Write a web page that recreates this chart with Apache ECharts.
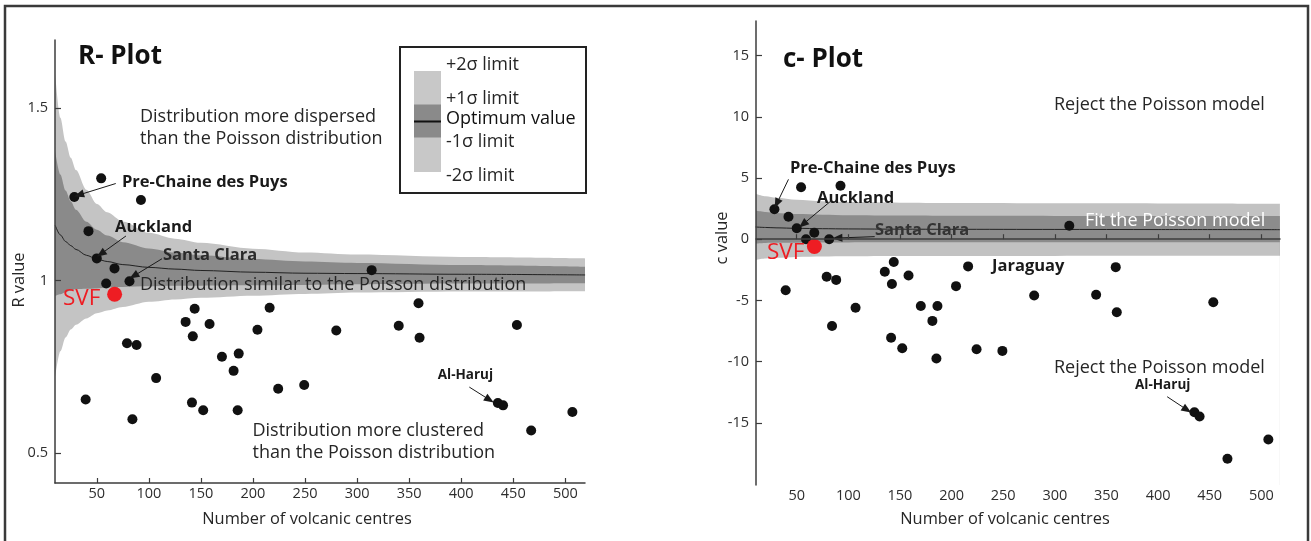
<!DOCTYPE html>
<html><head><meta charset="utf-8">
<script src="https://cdn.jsdelivr.net/npm/echarts@6/dist/echarts.min.js"></script>
<style>html,body{margin:0;padding:0;background:#fff}#c{width:1311px;height:541px}</style>
</head><body><div id="c"></div>
<script>
// ---- data: number of volcanic centres and the R / c statistics per volcanic field ----
const centres = [54.2, 28.4, 92.4, 42, 50, 67, 59, 81.4, 314, 144, 216, 359, 135.3, 158.3, 204.3, 280, 340, 453.5, 142.2, 360, 79, 88.2, 170.2, 186.3, 181.4, 107, 224.2, 249.2, 39.3, 141.4, 152.2, 185.3, 84.2, 435.2, 440.2, 506.8, 467.2];
const rValues = [1.296, 1.242, 1.233, 1.143, 1.064, 1.035, 0.991, 0.998, 1.030, 0.918, 0.921, 0.934, 0.880, 0.874, 0.857, 0.855, 0.869, 0.871, 0.838, 0.834, 0.818, 0.813, 0.779, 0.788, 0.738, 0.717, 0.686, 0.697, 0.655, 0.646, 0.624, 0.624, 0.598, 0.645, 0.638, 0.619, 0.565];
const cValues = [4.25, 2.45, 4.36, 1.83, 0.90, 0.53, 0.0, 0.0, 1.10, -1.86, -2.22, -2.28, -2.65, -2.96, -3.83, -4.59, -4.53, -5.15, -3.66, -5.97, -3.07, -3.32, -5.46, -5.46, -6.67, -5.60, -8.98, -9.12, -4.17, -8.05, -8.90, -9.74, -7.09, -14.13, -14.47, -16.36, -17.93];
const svfCentres = [67.1];
const svfR = [0.960];
const svfC = [-0.59];

// tick labels
const xTicks = [50, 100, 150, 200, 250, 300, 350, 400, 450, 500];
const rTicks = [0.5, 1, 1.5];
const cTicks = [-15, -10, -5, 0, 5, 10, 15];

// R-plot confidence envelope
const rBandN   = [10, 15, 20, 25, 30, 40, 50, 60, 75, 100, 125, 150, 200, 250, 300, 400, 519];
const rUpper2  = [1.600, 1.472, 1.403, 1.356, 1.320, 1.263, 1.222, 1.198, 1.171, 1.138, 1.121, 1.109, 1.092, 1.081, 1.075, 1.068, 1.064];
const rUpper1  = [1.375, 1.307, 1.261, 1.229, 1.205, 1.170, 1.147, 1.130, 1.111, 1.093, 1.081, 1.073, 1.062, 1.055, 1.051, 1.045, 1.040];
const rOptimum = [1.160, 1.132, 1.113, 1.101, 1.090, 1.073, 1.062, 1.055, 1.046, 1.038, 1.033, 1.029, 1.024, 1.021, 1.020, 1.018, 1.016];
const rLower1  = [0.955, 0.960, 0.966, 0.971, 0.975, 0.976, 0.977, 0.980, 0.981, 0.983, 0.985, 0.985, 0.986, 0.987, 0.989, 0.991, 0.992];
const rLower2  = [0.720, 0.795, 0.835, 0.858, 0.872, 0.890, 0.905, 0.913, 0.923, 0.938, 0.945, 0.950, 0.956, 0.961, 0.965, 0.968, 0.969];

// c-plot confidence envelope
const cBandN   = [10, 20, 30, 50, 75, 100, 150, 200, 300, 400, 518];
const cUpper2  = [3.70, 3.50, 3.38, 3.22, 3.10, 3.03, 2.98, 2.95, 2.93, 2.92, 2.90];
const cUpper1  = [2.35, 2.22, 2.15, 2.06, 2.00, 1.96, 1.93, 1.91, 1.90, 1.89, 1.88];
const cOptimum = [1.00, 0.96, 0.93, 0.89, 0.86, 0.84, 0.82, 0.81, 0.80, 0.79, 0.78];
const cLower1  = [-0.35, -0.30, -0.29, -0.28, -0.27, -0.26, -0.25, -0.25, -0.25, -0.25, -0.25];
const cLower2  = [-1.70, -1.58, -1.52, -1.45, -1.42, -1.40, -1.38, -1.37, -1.36, -1.35, -1.35];

// ---- build ----
const FONT = '"Open Sans", "DejaVu Sans", sans-serif';
const LIGHT = '#c4c4c4', DARK = '#8a8a8a';
const TEXT = '#262626';
const BODY = 18, LABEL = 16.5, SMALL = 13.5;
const zip = (a, b) => a.map((v, i) => [v, b[i]]);

function band(xi, xs, ys, color) {
  return { type: 'line', xAxisIndex: xi, yAxisIndex: xi, data: zip(xs, ys), symbol: 'none', smooth: 0.3,
    smoothMonotone: 'x', silent: true, lineStyle: { width: 0 },
    areaStyle: { color: color, opacity: 1, origin: 'start' }, z: 1 };
}
function optLine(xi, xs, ys) {
  return { type: 'line', xAxisIndex: xi, yAxisIndex: xi, data: zip(xs, ys), symbol: 'none', smooth: 0.3,
    smoothMonotone: 'x', silent: true, lineStyle: { width: 1, color: '#222' }, z: 2 };
}
function arrows(list) {
  return { silent: true, symbol: ['none', 'triangle'], symbolSize: [8, 10], animation: false,
    label: { show: false }, lineStyle: { color: '#1a1a1a', width: 1, type: 'solid', opacity: 1 },
    emphasis: { disabled: true },
    data: list.map(a => [{ coord: a[0] }, { coord: a[1] }]) };
}

const axisCommon = {
  axisLine: { lineStyle: { color: '#3c3c3c', width: 1.5 } },
  splitLine: { show: false },
  z: 5
};
function xAxis(gi, min, max) {
  return Object.assign({}, axisCommon, {
    gridIndex: gi, type: 'value', min: min, max: max,
    axisTick: { inside: true, length: 5, lineStyle: { color: '#3c3c3c', width: 1.2 }, customValues: xTicks },
    axisLabel: { customValues: xTicks, color: '#2e2e2e', fontSize: 14.5, fontFamily: FONT, margin: 3 }
  });
}
function yAxis(gi, min, max, ticks) {
  return Object.assign({}, axisCommon, {
    gridIndex: gi, type: 'value', min: min, max: max,
    axisTick: { inside: true, length: 6, lineStyle: { color: '#3c3c3c', width: 1.2 }, customValues: ticks },
    axisLabel: { customValues: ticks, color: '#2e2e2e', fontSize: 14.5, fontFamily: FONT, margin: 7 }
  });
}

function txt(text, x, y, size, opts) {
  opts = opts || {};
  return { type: 'text', x: x, y: y, z: 100, rotation: opts.rot || 0,
    style: { text: text, fill: opts.color || TEXT, fontSize: size, fontFamily: FONT,
      fontWeight: opts.bold ? 'bold' : 'normal',
      align: opts.align || 'left', verticalAlign: 'middle',
      textAlign: opts.align || 'left', textVerticalAlign: 'middle' } };
}

const graphics = [
  { type: 'rect', z: 0, shape: { x: 5, y: 6, width: 1303, height: 560 }, style: { fill: 'none', stroke: '#3a3a3a', lineWidth: 2.5 } },
  // legend box
  { type: 'rect', z: 90, shape: { x: 400, y: 47, width: 186, height: 146 }, style: { fill: '#fff', stroke: '#222', lineWidth: 2 } },
  { type: 'rect', z: 91, shape: { x: 414, y: 71, width: 27, height: 101 }, style: { fill: '#c8c8c8' } },
  { type: 'rect', z: 92, shape: { x: 414, y: 104.5, width: 27, height: 33 }, style: { fill: '#8a8a8a' } },
  { type: 'line', z: 93, shape: { x1: 414, y1: 121.5, x2: 441, y2: 121.5 }, style: { stroke: '#111', lineWidth: 2 } },
  txt('+2σ limit', 446, 65, BODY),
  txt('+1σ limit', 446, 98.5, BODY),
  txt('Optimum value', 446, 119, BODY, { color: '#111' }),
  txt('-1σ limit', 446, 141.5, BODY),
  txt('-2σ limit', 446, 176, BODY),
  // R plot annotations
  txt('R- Plot', 78, 57, 26, { bold: true, color: '#111' }),
  txt('Distribution more dispersed', 140, 116.6, BODY),
  txt('than the Poisson distribution', 140, 139, BODY),
  txt('Pre-Chaine des Puys', 122, 182, LABEL, { bold: true, color: '#1a1a1a' }),
  txt('Auckland', 115, 227, LABEL, { bold: true, color: '#1a1a1a' }),
  txt('Santa Clara', 163, 255.3, LABEL, { bold: true, color: '#2a2a2a' }),
  txt('Distribution similar to the Poisson distribution', 140, 284.6, BODY),
  txt('SVF', 63, 298.4, 22.5, { color: '#ee1d23' }),
  txt('Al-Haruj', 437.7, 375.4, SMALL, { bold: true, color: '#1a1a1a' }),
  txt('Distribution more clustered', 252.5, 430.6, BODY),
  txt('than the Poisson distribution', 252.5, 453, BODY),
  txt('R value', 19, 280, 16.4, { rot: Math.PI / 2, align: 'center' }),
  txt('Number of volcanic centres', 307, 519, 16.4, { align: 'center' }),
  // c plot annotations
  txt('c- Plot', 783, 59.3, 26, { bold: true, color: '#111' }),
  txt('Reject the Poisson model', 1054, 104.5, BODY),
  txt('Pre-Chaine des Puys', 790, 168.4, LABEL, { bold: true, color: '#1a1a1a' }),
  txt('Auckland', 817, 198.4, LABEL, { bold: true, color: '#1a1a1a' }),
  txt('Santa Clara', 875, 230.5, LABEL, { bold: true, color: '#333' }),
  txt('SVF', 767, 252.9, 22.5, { color: '#ee1d23' }),
  txt('Fit the Poisson model', 1085, 220.8, BODY, { color: '#ffffff' }),
  txt('Jaraguay', 992, 266.7, LABEL, { bold: true, color: '#1a1a1a' }),
  txt('Reject the Poisson model', 1054, 367.4, BODY),
  txt('Al-Haruj', 1135, 384.7, SMALL, { bold: true, color: '#1a1a1a' }),
  txt('c value', 722, 238, 16.4, { rot: Math.PI / 2, align: 'center' }),
  txt('Number of volcanic centres', 1005, 519, 16.4, { align: 'center' })
];

const dotStyle = { color: '#111', opacity: 1 };
const svfStyle = { color: '#ee1d23', opacity: 1 };

const option = {
  animation: false,
  backgroundColor: '#fff',
  grid: [
    { left: 55, top: 40, width: 530, height: 443 },
    { left: 756, top: 21, width: 524, height: 464 }
  ],
  xAxis: [xAxis(0, 9.85, 518.9), xAxis(1, 10.55, 518.1)],
  yAxis: [yAxis(0, 0.413, 1.697, rTicks), yAxis(1, -20.07, 17.82, cTicks)],
  series: [
    band(0, rBandN, rUpper2, LIGHT),
    band(0, rBandN, rUpper1, DARK),
    band(0, rBandN, rLower1, LIGHT),
    band(0, rBandN, rLower2, '#ffffff'),
    optLine(0, rBandN, rOptimum),
    { type: 'scatter', xAxisIndex: 0, yAxisIndex: 0, data: zip(centres, rValues), symbolSize: 10,
      itemStyle: dotStyle, z: 3,
      markLine: arrows([
        [[68.2, 1.281], [32.9, 1.248]],
        [[78, 1.129], [54, 1.077]],
        [[112.6, 1.063], [85.5, 1.013]],
        [[407.8, 0.691], [427.2, 0.654]]
      ]) },
    { type: 'scatter', xAxisIndex: 0, yAxisIndex: 0, data: zip(svfCentres, svfR), symbolSize: 15,
      itemStyle: svfStyle, z: 4 },

    band(1, cBandN, cUpper2, '#c2c2c2'),
    band(1, cBandN, cUpper1, '#8c8c8c'),
    band(1, cBandN, cLower1, '#c2c2c2'),
    band(1, cBandN, cLower2, '#ffffff'),
    optLine(1, cBandN, cOptimum),
    { type: 'scatter', xAxisIndex: 1, yAxisIndex: 1, data: zip(centres, cValues), symbolSize: 10,
      itemStyle: dotStyle, z: 3,
      markLine: arrows([
        [[42, 4.89], [30.7, 2.91]],
        [[82.2, 3.06], [56, 1.22]],
        [[125.5, 0.21], [89.4, 0.1]],
        [[408.8, -12.86], [428, -13.93]]
      ]) },
    { type: 'scatter', xAxisIndex: 1, yAxisIndex: 1, data: zip(svfCentres, svfC), symbolSize: 15,
      itemStyle: svfStyle, z: 4 }
  ],
  graphic: graphics
};

const chart = echarts.init(document.getElementById('c'), null, { renderer: 'canvas' });
chart.setOption(option);
</script>
</body></html>
